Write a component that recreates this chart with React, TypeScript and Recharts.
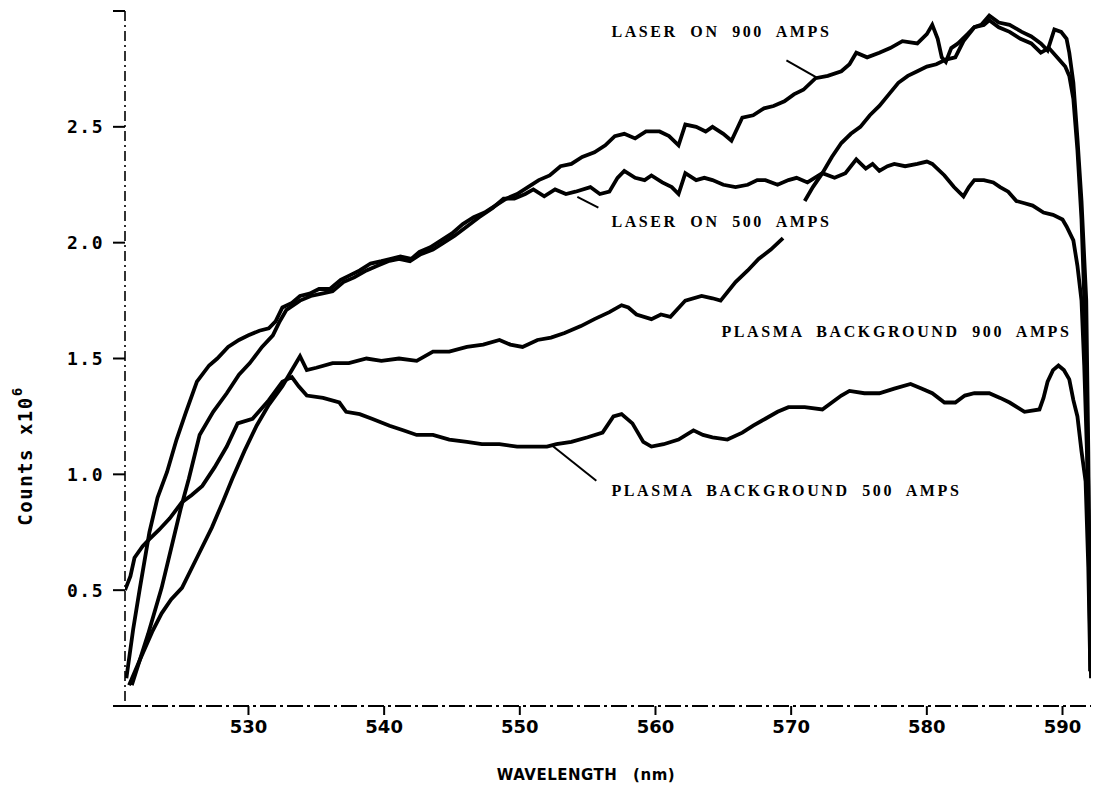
import { LineChart, Line, XAxis, YAxis, ReferenceLine, ReferenceDot, Label } from "recharts";

// wavelength (nm) / counts (x10^6)
const laser900Nm = [521.0, 521.5, 522.0, 522.7, 523.3, 524.0, 524.7, 525.4, 526.2, 527.1, 527.7, 528.5, 529.3, 530.0, 530.8, 531.5, 532.0, 532.5, 533.2, 533.8, 534.5, 535.2, 536.0, 536.8, 537.5, 538.2, 539.0, 539.8, 540.5, 541.2, 542.0, 542.6, 543.4, 544.2, 545.0, 545.8, 546.6, 547.4, 548.2, 549.0, 549.8, 550.6, 551.4, 552.2, 553.0, 553.8, 554.6, 555.5, 556.3, 557.0, 557.7, 558.5, 559.3, 560.3, 561.0, 561.7, 562.2, 563.0, 563.7, 564.2, 565.0, 565.6, 566.4, 567.2, 568.0, 568.7, 569.5, 570.2, 570.9, 571.8, 572.7, 573.7, 574.3, 574.8, 575.6, 576.5, 577.3, 578.2, 579.3, 580.0, 580.4, 580.8, 581.1, 581.4, 581.8, 582.3, 583.0, 583.5, 584.0, 584.6, 585.3, 586.1, 587.0, 587.7, 588.4, 588.9, 589.4, 589.9, 590.3, 590.5, 590.8, 591.1, 591.4, 591.75, 591.9, 592.0, 592.05];
const laser900Counts = [0.12, 0.33, 0.51, 0.75, 0.9, 1.01, 1.15, 1.27, 1.4, 1.47, 1.5, 1.55, 1.58, 1.6, 1.62, 1.63, 1.66, 1.72, 1.74, 1.77, 1.78, 1.8, 1.8, 1.84, 1.86, 1.88, 1.91, 1.92, 1.93, 1.94, 1.93, 1.96, 1.98, 2.01, 2.04, 2.08, 2.11, 2.13, 2.16, 2.19, 2.21, 2.24, 2.27, 2.29, 2.33, 2.34, 2.37, 2.39, 2.42, 2.46, 2.47, 2.45, 2.48, 2.48, 2.46, 2.42, 2.51, 2.5, 2.48, 2.5, 2.47, 2.44, 2.54, 2.55, 2.58, 2.59, 2.61, 2.64, 2.66, 2.71, 2.72, 2.74, 2.77, 2.82, 2.8, 2.82, 2.84, 2.87, 2.86, 2.9, 2.94, 2.88, 2.8, 2.78, 2.84, 2.86, 2.9, 2.93, 2.94, 2.98, 2.95, 2.94, 2.91, 2.89, 2.86, 2.83, 2.92, 2.91, 2.88, 2.82, 2.69, 2.45, 2.18, 1.75, 1.1, 0.5, 0.15];

const laser500Nm = [521.4, 522.0, 522.6, 523.6, 524.3, 525.0, 525.6, 526.4, 527.4, 528.4, 529.3, 530.1, 531.0, 531.8, 532.3, 532.8, 533.8, 534.6, 535.4, 536.2, 537.0, 537.8, 538.7, 539.5, 540.3, 541.1, 541.9, 542.7, 543.6, 544.4, 545.2, 546.1, 547.0, 548.0, 548.8, 549.6, 550.4, 551.0, 551.8, 552.6, 553.4, 554.1, 555.2, 555.9, 556.6, 557.2, 557.7, 558.5, 559.2, 559.7, 560.5, 561.2, 561.7, 562.2, 563.0, 563.6, 564.2, 565.0, 565.9, 566.8, 567.5, 568.1, 569.0, 569.8, 570.4, 571.2, 572.3, 573.2, 574.0, 574.8, 575.5, 576.0, 576.5, 577.1, 577.6, 578.4, 579.3, 580.0, 580.4, 581.3, 582.0, 582.7, 583.1, 583.5, 584.2, 584.9, 585.4, 586.0, 586.6, 587.2, 587.8, 588.6, 589.3, 590.0, 590.3, 590.8, 591.1, 591.4, 591.6, 591.8, 592.0, 592.1];
const laser500Counts = [0.09, 0.2, 0.31, 0.51, 0.68, 0.85, 0.98, 1.17, 1.27, 1.35, 1.43, 1.48, 1.55, 1.6, 1.66, 1.71, 1.75, 1.77, 1.78, 1.79, 1.83, 1.85, 1.88, 1.9, 1.92, 1.93, 1.92, 1.95, 1.97, 2.0, 2.03, 2.07, 2.11, 2.15, 2.19, 2.19, 2.21, 2.23, 2.2, 2.23, 2.21, 2.22, 2.24, 2.21, 2.22, 2.28, 2.31, 2.28, 2.27, 2.29, 2.26, 2.24, 2.21, 2.3, 2.27, 2.28, 2.27, 2.25, 2.24, 2.25, 2.27, 2.27, 2.25, 2.27, 2.28, 2.26, 2.3, 2.28, 2.3, 2.36, 2.32, 2.34, 2.31, 2.33, 2.34, 2.33, 2.34, 2.35, 2.34, 2.29, 2.24, 2.2, 2.24, 2.27, 2.27, 2.26, 2.24, 2.22, 2.18, 2.17, 2.16, 2.13, 2.12, 2.1, 2.07, 2.01, 1.9, 1.75, 1.47, 1.1, 0.55, 0.12];

const plasma900Nm = [521.2, 522.0, 522.9, 523.6, 524.3, 525.1, 526.2, 527.3, 528.1, 528.8, 529.7, 530.6, 531.5, 532.5, 533.2, 533.8, 534.3, 535.0, 536.2, 537.4, 538.7, 539.8, 541.1, 542.4, 543.6, 544.8, 546.1, 547.3, 548.5, 549.3, 550.2, 551.3, 552.3, 553.3, 554.5, 555.5, 556.6, 557.5, 558.0, 558.6, 559.7, 560.4, 561.1, 562.2, 563.4, 564.2, 564.8, 565.9, 566.8, 567.6, 568.5, 569.4, 570.2, 571.0, 571.6, 572.3, 573.0, 573.7, 574.4, 575.1, 575.8, 576.5, 577.2, 577.9, 578.6, 579.3, 580.0, 580.7, 581.4, 582.1, 582.7, 583.5, 584.2, 584.6, 585.3, 586.1, 586.9, 587.7, 588.4, 589.0, 589.6, 590.2, 590.5, 590.8, 591.1, 591.4, 591.7, 591.9, 592.05];
const plasma900Counts = [0.09, 0.2, 0.32, 0.4, 0.46, 0.51, 0.64, 0.77, 0.88, 0.98, 1.1, 1.21, 1.3, 1.38, 1.45, 1.51, 1.45, 1.46, 1.48, 1.48, 1.5, 1.49, 1.5, 1.49, 1.53, 1.53, 1.55, 1.56, 1.58, 1.56, 1.55, 1.58, 1.59, 1.61, 1.64, 1.67, 1.7, 1.73, 1.72, 1.69, 1.67, 1.69, 1.68, 1.75, 1.77, 1.76, 1.75, 1.83, 1.88, 1.93, 1.97, 2.02, null, 2.18, 2.24, 2.3, 2.37, 2.43, 2.47, 2.5, 2.55, 2.59, 2.64, 2.69, 2.72, 2.74, 2.76, 2.77, 2.79, 2.8, 2.87, 2.93, 2.94, 2.96, 2.93, 2.91, 2.88, 2.86, 2.82, 2.84, 2.8, 2.76, 2.72, 2.62, 2.4, 2.1, 1.6, 0.95, 0.2];

const plasma500Nm = [520.9, 521.3, 521.6, 522.2, 522.7, 523.4, 524.2, 525.1, 525.8, 526.6, 527.5, 528.4, 529.2, 530.3, 531.5, 532.5, 533.2, 533.7, 534.3, 535.5, 536.7, 537.2, 538.2, 539.1, 540.4, 541.4, 542.4, 543.6, 544.8, 546.1, 547.2, 548.5, 549.8, 551.0, 552.0, 552.7, 553.8, 555.0, 556.1, 556.9, 557.5, 558.3, 559.1, 559.7, 560.6, 561.7, 562.8, 563.5, 564.2, 565.3, 566.4, 567.2, 568.1, 569.0, 569.8, 571.0, 572.3, 573.0, 573.7, 574.3, 575.4, 576.5, 577.6, 578.8, 579.6, 580.4, 581.3, 582.1, 582.8, 583.5, 584.6, 585.4, 586.1, 587.2, 588.3, 588.6, 588.9, 589.3, 589.7, 590.1, 590.5, 590.8, 591.1, 591.4, 591.7, 591.9, 592.05];
const plasma500Counts = [0.5, 0.56, 0.64, 0.69, 0.72, 0.76, 0.81, 0.88, 0.91, 0.95, 1.03, 1.12, 1.22, 1.24, 1.32, 1.4, 1.42, 1.38, 1.34, 1.33, 1.31, 1.27, 1.26, 1.24, 1.21, 1.19, 1.17, 1.17, 1.15, 1.14, 1.13, 1.13, 1.12, 1.12, 1.12, 1.13, 1.14, 1.16, 1.18, 1.25, 1.26, 1.22, 1.14, 1.12, 1.13, 1.15, 1.19, 1.17, 1.16, 1.15, 1.18, 1.21, 1.24, 1.27, 1.29, 1.29, 1.28, 1.31, 1.34, 1.36, 1.35, 1.35, 1.37, 1.39, 1.37, 1.35, 1.31, 1.31, 1.34, 1.35, 1.35, 1.33, 1.31, 1.27, 1.28, 1.33, 1.4, 1.45, 1.47, 1.45, 1.41, 1.32, 1.25, 1.1, 0.97, 0.6, 0.15];

const xTicks = [530, 540, 550, 560, 570, 580, 590];
const yTicks = [0, 0.5, 1, 1.5, 2, 2.5, 3];

// curve labels: text, left edge (nm), middle (counts)
const labelText = ["LASER ON 900 AMPS", "LASER ON 500 AMPS", "PLASMA BACKGROUND 900 AMPS", "PLASMA BACKGROUND 500 AMPS"];
const labelNm = [556.75, 556.75, 564.86, 556.75];
const labelCounts = [2.91, 2.09, 1.617, 0.93];

// leader lines from label to curve: [startNm, startCounts, endNm, endCounts]
const leaders = [
  [569.65, 2.787, 571.86, 2.714],
  [554.24, 2.198, 555.79, 2.151],
  [552.4, 1.123, 555.64, 0.972],
];

const toPoints = (nm: number[], counts: (number | null)[]) => nm.map((x, i) => ({ nm: x, counts: counts[i] }));

const series = [
  toPoints(laser900Nm, laser900Counts),
  toPoints(laser500Nm, laser500Counts),
  toPoints(plasma900Nm, plasma900Counts),
  toPoints(plasma500Nm, plasma500Counts),
];

const annoFont = { fontFamily: "Liberation Serif", fontWeight: 700, fontSize: 16, letterSpacing: 2.6, wordSpacing: 6 };

function YLabel(props: any) {
  const vb = props.viewBox;
  const cx = vb.x + 25;
  const cy = vb.y + 445;
  return (
    <text x={cx} y={cy} transform={`rotate(-90, ${cx}, ${cy})`} textAnchor="middle" dominantBaseline="central"
      fontFamily="DejaVu Sans Mono" fontWeight={700} fontSize={19} letterSpacing={1.5} fill="#000">
      Counts x10<tspan dy={-8} fontSize={14}>6</tspan>
    </text>
  );
}

function XLabel(props: any) {
  const vb = props.viewBox;
  return (
    <text x={vb.x + vb.width / 2 - 22} y={vb.y + 69} textAnchor="middle" dominantBaseline="central"
      fontFamily="DejaVu Sans" fontWeight={700} fontSize={15} fill="#000" letterSpacing={0.5} wordSpacing={10}>
      WAVELENGTH (nm)
    </text>
  );
}

function App() {
  return (
    <div style={{ position: "absolute", left: 0, top: 0, width: 1093, height: 795, background: "#fff" }}>
      <LineChart width={1093} height={795} margin={{ top: 11, right: 2, bottom: 0, left: 0 }}>
        <XAxis
          dataKey="nm"
          type="number"
          domain={[520.9, 592.1]}
          allowDataOverflow
          ticks={xTicks}
          interval={0}
          height={89}
          tickSize={9}
          tickMargin={5}
          axisLine={{ stroke: "#000", strokeWidth: 2, strokeDasharray: "16 4 3 4" }}
          tickLine={{ stroke: "#000", strokeWidth: 2 }}
          tick={{ fill: "#000", fontFamily: "DejaVu Sans", fontWeight: 700, fontSize: 18 }}
        >
          <Label content={XLabel} />
        </XAxis>
        <YAxis
          type="number"
          domain={[0, 3]}
          ticks={yTicks}
          interval={0}
          width={125}
          tickSize={12}
          tickMargin={9}
          tickFormatter={(v: number) => (v === 0 || v === 3 ? "" : v.toFixed(1))}
          axisLine={{ stroke: "#000", strokeWidth: 1.6, strokeDasharray: "10 4 2 4" }}
          tickLine={{ stroke: "#000", strokeWidth: 2 }}
          tick={{ fill: "#000", fontFamily: "DejaVu Sans Mono", fontWeight: 700, fontSize: 18, letterSpacing: 1.5 }}
        >
          <Label content={YLabel} />
        </YAxis>
        {series.map((data, i) => (
          <Line
            key={`s-${i}`}
            data={data}
            dataKey="counts"
            type="linear"
            stroke="#000"
            strokeWidth={3.8}
            dot={false}
            activeDot={false}
            connectNulls={false}
            isAnimationActive={false}
          />
        ))}
        {leaders.map((l, i) => (
          <ReferenceLine
            key={`l-${i}`}
            segment={[{ x: l[0], y: l[1] }, { x: l[2], y: l[3] }]}
            stroke="#000"
            strokeWidth={2}
            ifOverflow="visible"
          />
        ))}
        {labelText.map((t, i) => (
          <ReferenceDot
            key={`t-${i}`}
            x={labelNm[i]}
            y={labelCounts[i]}
            r={0}
            ifOverflow="visible"
            shape={(p: any) => (
              <text x={p.cx} y={p.cy} dominantBaseline="central" textAnchor="start" fill="#000" {...annoFont}>
                {t}
              </text>
            )}
          />
        ))}
      </LineChart>
    </div>
  );
}

export default App;
